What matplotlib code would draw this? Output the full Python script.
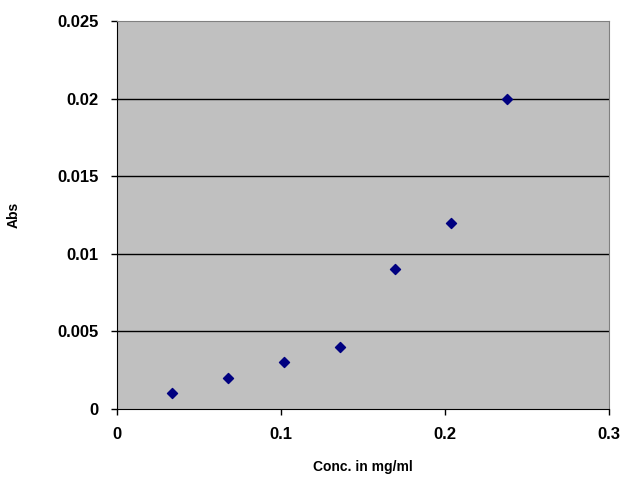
import matplotlib
matplotlib.use("Agg")
import matplotlib.pyplot as plt

# data
conc = [0.034, 0.068, 0.102, 0.136, 0.170, 0.204, 0.238]
absorb = [0.001, 0.002, 0.003, 0.004, 0.009, 0.012, 0.020]
x_ticks = [0, 0.1, 0.2, 0.3]
y_ticks = [0, 0.005, 0.01, 0.015, 0.02, 0.025]
x_labels = ["0", "0.1", "0.2", "0.3"]
y_labels = ["0", "0.005", "0.01", "0.015", "0.02", "0.025"]

plt.rcParams['font.family'] = ['Liberation Sans', 'DejaVu Sans']

fig = plt.figure(figsize=(6.24, 4.78), dpi=100)
ax = fig.add_axes([0.1867, 0.1444, 0.789, 0.8116])
ax.set_facecolor("#c0c0c0")

# horizontal grid lines only
for yv in y_ticks[1:-1]:
    ax.axhline(yv, color="black", linewidth=1, zorder=1)

ax.scatter(conc, absorb, marker="D", s=26, color="#000080", zorder=3)

ax.set_xlim(0, 0.3)
ax.set_ylim(0, 0.025)
ax.set_xticks(x_ticks)
ax.set_xticklabels(x_labels, fontsize=12, fontweight="bold")
ax.set_yticks(y_ticks)
ax.set_yticklabels(y_labels, fontsize=12, fontweight="bold")
ax.tick_params(direction="out", length=4, width=1, color="black", pad=9)

ax.spines["left"].set_color("black")
ax.spines["bottom"].set_color("black")
ax.spines["top"].set_color("#808080")
ax.spines["right"].set_color("#808080")

ax.set_xlabel("Conc. in mg/ml", fontsize=10, fontweight="bold", labelpad=13)
ax.set_ylabel("Abs", fontsize=10, fontweight="bold", labelpad=26)

fig.savefig("out.png", dpi=100)
